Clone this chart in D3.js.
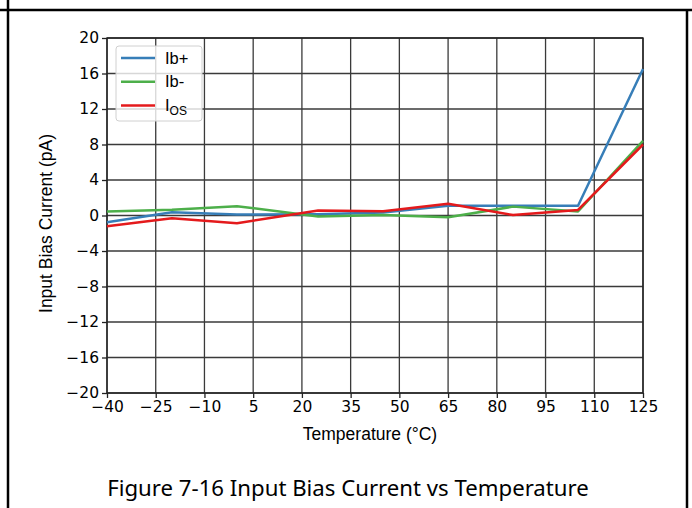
<!DOCTYPE html>
<html>
<head>
<meta charset="utf-8">
<script src="https://cdn.jsdelivr.net/npm/d3@7"></script>
<style>
  body { margin: 0; background: #fff; }
  svg { display: block; }
</style>
</head>
<body>
<svg width="692" height="508"></svg>
<script>
// temperatures (°C) and currents (pA)
var temps = [-40, -20, 0, 25, 45, 65, 85, 105, 125];
var ibPlus = [-0.76, 0.37, 0.1, 0.15, 0.35, 1.1, 1.1, 1.1, 16.5];
var ibMinus = [0.45, 0.64, 1.05, -0.1, 0.05, -0.2, 1.0, 0.45, 8.4];
var ios = [-1.2, -0.3, -0.87, 0.56, 0.49, 1.32, 0.05, 0.63, 8.0];

var xTicks = [-40, -25, -10, 5, 20, 35, 50, 65, 80, 95, 110, 125];
var yTicks = [-20, -16, -12, -8, -4, 0, 4, 8, 12, 16, 20];

var series = [
    { name: 'Ib+', sub: '', values: ibPlus, color: '#377eb8' },
    { name: 'Ib-', sub: '', values: ibMinus, color: '#4daf4a' },
    { name: 'I', sub: 'OS', values: ios, color: '#e41a1c' }
];

var svg = d3.select('svg');

// outer frame of the datasheet page
svg.append('line').attr('x1', 0).attr('x2', 692).attr('y1', 10).attr('y2', 10)
    .attr('stroke', '#000').attr('stroke-width', 2.5);
svg.append('line').attr('x1', 8).attr('x2', 8).attr('y1', 0).attr('y2', 508)
    .attr('stroke', '#000').attr('stroke-width', 2.5);
svg.append('line').attr('x1', 687).attr('x2', 687).attr('y1', 10).attr('y2', 508)
    .attr('stroke', '#000').attr('stroke-width', 2.5);

var margin = {top: 38, left: 107},
    width = 536,
    height = 355;

var g = svg.append('g')
    .attr('transform', 'translate(' + margin.left + ',' + margin.top + ')');

var x = d3.scaleLinear().domain([-40, 125]).range([0, width]);
var y = d3.scaleLinear().domain([-20, 20]).range([height, 0]);

// grid
g.append('g').selectAll('line')
    .data(xTicks)
    .enter().append('line')
    .attr('x1', function (d) { return x(d); })
    .attr('x2', function (d) { return x(d); })
    .attr('y1', 0).attr('y2', height)
    .attr('stroke', '#3a3a3a').attr('stroke-width', 1.3);
g.append('g').selectAll('line')
    .data(yTicks)
    .enter().append('line')
    .attr('x1', 0).attr('x2', width)
    .attr('y1', function (d) { return y(d); })
    .attr('y2', function (d) { return y(d); })
    .attr('stroke', '#3a3a3a').attr('stroke-width', 1.3);

// axes
var fmt = function (d) { return d < 0 ? '\u2212' + Math.abs(d) : String(d); };

var xAxis = g.append('g')
    .attr('transform', 'translate(0,' + height + ')')
    .call(d3.axisBottom(x).tickValues(xTicks).tickFormat(fmt).tickSize(5).tickPadding(3));
var yAxis = g.append('g')
    .call(d3.axisLeft(y).tickValues(yTicks).tickFormat(fmt).tickSize(5).tickPadding(3));

[xAxis, yAxis].forEach(function (a) {
    a.select('.domain').remove();
    a.selectAll('line').attr('stroke', '#222').attr('stroke-width', 1.3);
    a.selectAll('text')
        .style('font-family', 'DejaVu Sans, sans-serif')
        .style('font-size', '15.5px')
        .attr('fill', '#000');
});

g.append('rect')
    .attr('width', width).attr('height', height)
    .attr('fill', 'none').attr('stroke', '#222').attr('stroke-width', 1.4);

// lines
var line = d3.line()
    .x(function (d, i) { return x(temps[i]); })
    .y(function (d) { return y(d); });

g.selectAll('.series')
    .data(series)
    .enter().append('path')
    .attr('class', 'series')
    .attr('d', function (d) { return line(d.values); })
    .attr('fill', 'none')
    .attr('stroke', function (d) { return d.color; })
    .attr('stroke-width', 2.5)
    .attr('stroke-linejoin', 'round');

// legend
var legend = g.append('g').attr('transform', 'translate(9,8)');
legend.append('rect')
    .attr('width', 86).attr('height', 75)
    .attr('rx', 3)
    .attr('fill', 'rgba(255,255,255,0.8)')
    .attr('stroke', '#d0d0d0');

var item = legend.selectAll('.item')
    .data(series)
    .enter().append('g')
    .attr('transform', function (d, i) { return 'translate(0,' + (12 + i * 23.7) + ')'; });

item.append('line')
    .attr('x1', 5).attr('x2', 39)
    .attr('stroke', function (d) { return d.color; })
    .attr('stroke-width', 2.5);

var label = item.append('text')
    .attr('x', 49).attr('y', 5.5)
    .style('font-family', 'Liberation Sans, Arial, sans-serif')
    .style('font-size', '16.5px');
label.append('tspan').text(function (d) { return d.name; });
label.append('tspan')
    .attr('dy', 4)
    .style('font-size', '12px')
    .text(function (d) { return d.sub; });

// axis titles
svg.append('text')
    .attr('x', 370).attr('y', 440)
    .attr('text-anchor', 'middle')
    .style('font-family', 'Liberation Sans, Arial, sans-serif')
    .style('font-size', '17.5px')
    .text('Temperature (\u00b0C)');

svg.append('text')
    .attr('transform', 'translate(52,' + (margin.top + height / 2 + 8) + ') rotate(-90)')
    .attr('text-anchor', 'middle')
    .style('font-family', 'Liberation Sans, Arial, sans-serif')
    .style('font-size', '17.5px')
    .text('Input Bias Current (pA)');

// caption
svg.append('text')
    .attr('x', 348).attr('y', 496)
    .attr('text-anchor', 'middle')
    .style('font-family', 'Noto Sans, sans-serif')
    .style('font-size', '22.2px')
    .text('Figure 7-16 Input Bias Current vs Temperature');
</script>
</body>
</html>
